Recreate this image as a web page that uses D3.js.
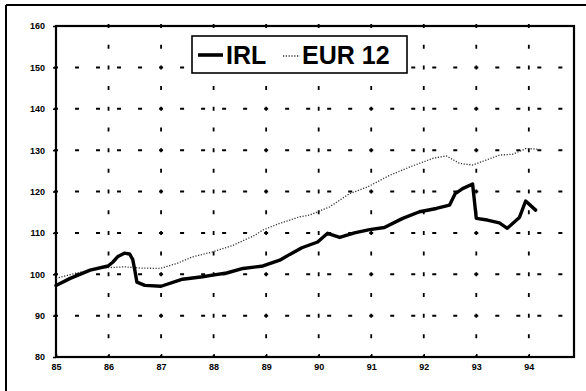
<!DOCTYPE html>
<html><head><meta charset="utf-8">
<script src="https://cdn.jsdelivr.net/npm/d3@7"></script>
<style>
html,body{margin:0;padding:0;background:#fff;}
svg{display:block;}
text{font-family:"Liberation Sans",Arial,sans-serif;}
</style></head>
<body>
<script>
// ---- data ----
const yTicks = [80, 90, 100, 110, 120, 130, 140, 150, 160];
const yTickLabels = ["80", "90", "100", "110", "120", "130", "140", "150", "160"];
const xTicks = [85, 86, 87, 88, 89, 90, 91, 92, 93, 94];
const xTickLabels = ["85", "86", "87", "88", "89", "90", "91", "92", "93", "94"];
const seriesNames = ["IRL", "EUR 12"];

const irlYears = [85.00, 85.27, 85.65, 85.99, 86.08, 86.18, 86.30, 86.40, 86.46, 86.50, 86.54, 86.69, 87.00, 87.41, 87.79, 87.98, 88.25, 88.56, 88.94, 89.26, 89.45, 89.68, 89.98, 90.17, 90.40, 90.68, 90.97, 91.25, 91.60, 91.92, 92.24, 92.49, 92.60, 92.74, 92.93, 93.00, 93.21, 93.44, 93.59, 93.82, 93.94, 94.13];
const irlValues = [97.3, 99.0, 101.0, 102.0, 102.9, 104.3, 105.1, 104.9, 103.6, 101.0, 98.1, 97.3, 97.1, 98.8, 99.4, 99.8, 100.3, 101.4, 102.0, 103.4, 104.8, 106.4, 107.8, 109.9, 108.9, 110.0, 110.8, 111.3, 113.5, 115.1, 115.9, 116.7, 119.5, 120.7, 121.8, 113.5, 113.1, 112.4, 111.1, 113.7, 117.7, 115.5];

const eurYears = [85.00, 85.36, 85.84, 86.31, 86.60, 86.98, 87.30, 87.60, 87.98, 88.37, 88.78, 88.94, 89.26, 89.64, 89.83, 90.21, 90.59, 90.93, 91.35, 91.73, 92.17, 92.43, 92.68, 92.93, 93.19, 93.44, 93.69, 93.95, 94.20];
const eurValues = [99.0, 100.2, 101.5, 101.8, 101.5, 101.4, 102.6, 104.2, 105.4, 107.0, 109.4, 110.7, 112.3, 113.9, 114.3, 116.3, 119.5, 121.1, 123.9, 125.9, 128.0, 128.6, 126.8, 126.4, 127.6, 128.8, 129.0, 130.4, 130.2];

// ---- layout ----
const W = 586, H = 391;
const L = 56, T = 26, R = 574, B = 357;

const svg = d3.select("body").append("svg").attr("width", W).attr("height", H);

const x = d3.scaleLinear().domain([85, 94.86]).range([L, R]);
const y = d3.scaleLinear().domain([80, 160]).range([B, T]);

// outer frame
svg.append("line").attr("x1", 6).attr("x2", 6).attr("y1", 5).attr("y2", H)
  .attr("stroke", "#000").attr("stroke-width", 2);
svg.append("line").attr("x1", 6).attr("x2", W).attr("y1", 5).attr("y2", 5)
  .attr("stroke", "#000").attr("stroke-width", 2);

// grid
const hPeriod = (x(86) - x(85)) * 2 / 5;
const vPeriod = (y(150) - y(160)) / 2;
const grid = svg.append("g");
grid.selectAll("line.h").data(yTicks.filter(v => v > 80 && v < 160)).join("line")
  .attr("class", "h")
  .attr("x1", L - 2).attr("x2", R)
  .attr("y1", d => y(d)).attr("y2", d => y(d))
  .attr("stroke", "#000").attr("stroke-width", 2)
  .attr("stroke-dasharray", `4,${hPeriod - 4}`);
grid.selectAll("line.v").data(xTicks.filter(v => v > 85)).join("line")
  .attr("class", "v")
  .attr("x1", d => x(d)).attr("x2", d => x(d))
  .attr("y1", T - 2).attr("y2", B)
  .attr("stroke", "#000").attr("stroke-width", 1.8)
  .attr("stroke-dasharray", `4,${vPeriod - 4}`);

// axes
const yAxis = d3.axisLeft(y).tickValues(yTicks).tickFormat((d, i) => yTickLabels[i]).tickSize(3).tickPadding(8);
const gy = svg.append("g").attr("transform", `translate(${L},0)`).call(yAxis);
gy.select(".domain").remove();
gy.selectAll(".tick line").attr("stroke", "#000").attr("stroke-width", 1.5);
gy.selectAll("text").attr("font-size", 9).attr("font-weight", "bold").attr("fill", "#000");

const xAxis = d3.axisBottom(x).tickValues(xTicks).tickFormat((d, i) => xTickLabels[i]).tickSize(-3).tickPadding(7);
const gx = svg.append("g").attr("transform", `translate(0,${B})`).call(xAxis);
gx.select(".domain").remove();
gx.selectAll(".tick line").attr("stroke", "#000").attr("stroke-width", 1.5);
gx.selectAll("text").attr("font-size", 9).attr("font-weight", "bold").attr("fill", "#000");

// plot frame
svg.append("rect").attr("x", L).attr("y", T).attr("width", R - L).attr("height", B - T)
  .attr("fill", "none").attr("stroke", "#000").attr("stroke-width", 2.2);

// series
const line = d3.line().x(d => x(d[0])).y(d => y(d[1])).curve(d3.curveLinear);
const eurData = eurYears.map((v, i) => [v, eurValues[i]]);
const irlData = irlYears.map((v, i) => [v, irlValues[i]]);

svg.append("path").datum(eurData).attr("d", line)
  .attr("fill", "none").attr("stroke", "#333").attr("stroke-width", 1.3)
  .attr("stroke-dasharray", "1.2,1.6");
svg.append("path").datum(irlData).attr("d", line)
  .attr("fill", "none").attr("stroke", "#000").attr("stroke-width", 3.4)
  .attr("stroke-linejoin", "round").attr("stroke-linecap", "round");

// legend
const lg = svg.append("g");
lg.append("rect").attr("x", 192).attr("y", 36).attr("width", 215).attr("height", 37)
  .attr("fill", "#fff").attr("stroke", "#000").attr("stroke-width", 1.6);
lg.append("line").attr("x1", 198).attr("x2", 223).attr("y1", 55).attr("y2", 55)
  .attr("stroke", "#000").attr("stroke-width", 3.6);
lg.append("text").attr("x", 226).attr("y", 64).attr("font-size", 25).attr("font-weight", "bold")
  .attr("fill", "#000").text(seriesNames[0]);
lg.append("line").attr("x1", 283).attr("x2", 300).attr("y1", 56).attr("y2", 56)
  .attr("stroke", "#333").attr("stroke-width", 1.3).attr("stroke-dasharray", "1.2,1.6");
lg.append("text").attr("x", 302).attr("y", 64).attr("font-size", 25).attr("font-weight", "bold")
  .attr("fill", "#000").text(seriesNames[1]);
</script>
</body></html>
